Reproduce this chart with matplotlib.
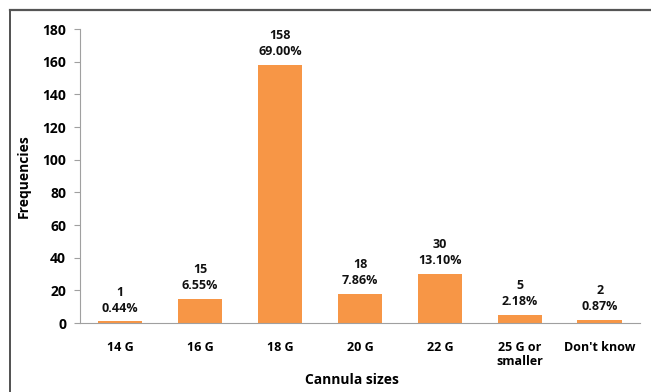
import matplotlib
matplotlib.use("Agg")
import matplotlib.pyplot as plt
from matplotlib.lines import Line2D

plt.rcParams['font.family'] = ['Open Sans', 'DejaVu Sans']
plt.rcParams['font.weight'] = 'bold'

categories = ['14 G', '16 G', '18 G', '20 G', '22 G', '25 G or\nsmaller', "Don't know"]
counts = [1, 15, 158, 18, 30, 5, 2]
percents = ['0.44%', '6.55%', '69.00%', '7.86%', '13.10%', '2.18%', '0.87%']

fig = plt.figure(figsize=(6.51, 3.92), dpi=100)
ax = fig.add_axes([0.1229, 0.176, 0.860, 0.750])

x = list(range(len(categories)))
bars = ax.bar(x, counts, width=0.56, color='#F79646', zorder=2)

for xi, c, p in zip(x, counts, percents):
    ax.text(xi, c + 4, str(c) + '\n' + p, ha='center', va='bottom',
            fontsize=9, fontweight='bold', linespacing=1.3, color='#111111')

ax.set_xlim(-0.5, 6.5)
ax.set_ylim(0, 180)
ax.set_yticks(range(0, 181, 20))
ax.set_xticks(x)
ax.set_xticklabels(categories, fontsize=9, fontweight='bold', linespacing=1.1)
ax.tick_params(axis='x', length=0, pad=13)
ax.tick_params(axis='y', length=4, color='#a0a0a0', labelsize=10, pad=6)
for lab in ax.get_yticklabels():
    lab.set_fontweight('bold')

ax.spines['top'].set_visible(False)
ax.spines['right'].set_visible(False)
ax.spines['left'].set_color('#a0a0a0')
ax.spines['bottom'].set_color('#a0a0a0')

ax.set_ylabel('Frequencies', fontsize=10, fontweight='bold', labelpad=8)
fig.text(0.541, 0.030, 'Cannula sizes', ha='center', va='center',
         fontsize=10, fontweight='bold')

# outer frame (left and top only, as in the picture)
fig.add_artist(Line2D([0.015, 0.015], [0.0, 0.974], color='#333333', lw=1.2))
fig.add_artist(Line2D([0.015, 1.0], [0.974, 0.974], color='#555555', lw=1.6))

fig.savefig('out.png', dpi=100)
